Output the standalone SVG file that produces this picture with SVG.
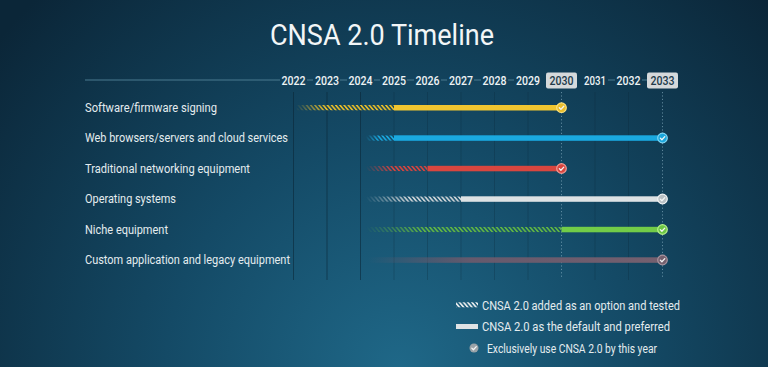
<svg xmlns="http://www.w3.org/2000/svg" width="768" height="367" viewBox="0 0 768 367">
<defs>
<radialGradient id="bg" cx="400" cy="370" r="520" gradientUnits="userSpaceOnUse">
<stop offset="0" stop-color="#1f6888"/>
<stop offset="0.45" stop-color="#144a66"/>
<stop offset="1" stop-color="#0b2638"/>
</radialGradient>
<pattern id="stripes" width="3.2" height="10" patternUnits="userSpaceOnUse" patternTransform="rotate(-40)">
<rect x="0" y="0" width="1.7" height="10" fill="#fff"/>
</pattern>
<mask id="hatch" maskUnits="userSpaceOnUse" x="0" y="0" width="768" height="367">
<rect x="0" y="0" width="768" height="367" fill="url(#stripes)"/>
</mask>
<linearGradient id="fadeG" x1="0" y1="0" x2="1" y2="0">
<stop offset="0" stop-color="#000"/>
<stop offset="0.45" stop-color="#fff"/>
<stop offset="1" stop-color="#fff"/>
</linearGradient>
<linearGradient id="fadeG2" x1="0" y1="0" x2="1" y2="0">
<stop offset="0" stop-color="#000"/>
<stop offset="0.3" stop-color="#fff"/>
<stop offset="1" stop-color="#fff"/>
</linearGradient>
<mask id="fade" maskContentUnits="objectBoundingBox">
<rect x="0" y="0" width="1" height="1" fill="url(#fadeG)"/>
</mask>
<mask id="fade2" maskContentUnits="objectBoundingBox">
<rect x="0" y="0" width="1" height="1" fill="url(#fadeG2)"/>
</mask>
<linearGradient id="mauveG" x1="368" y1="0" x2="662" y2="0" gradientUnits="userSpaceOnUse">
<stop offset="0" stop-color="#6e5a6c" stop-opacity="0"/>
<stop offset="0.35" stop-color="#6e5a6c" stop-opacity="0.9"/>
<stop offset="1" stop-color="#75606f"/>
</linearGradient>
<symbol id="check" viewBox="-6 -6 12 12" overflow="visible">
<path d="M-2.2 0.1 L-0.6 1.7 L2.3 -1.4" fill="none" stroke="#f4f6f6" stroke-width="1.3" stroke-linecap="round" stroke-linejoin="round"/>
</symbol>
</defs>
<style>
.title{font-family:Roboto,"Liberation Sans",sans-serif;font-size:30px;fill:#f2f6f7}
.yr{font-family:Roboto,"Liberation Sans",sans-serif;font-size:12px;font-weight:500;fill:#eef3f5;text-anchor:middle}
.yrb{fill:#203848}
.lbl{font-family:Roboto,"Liberation Sans",sans-serif;font-size:12px;fill:#e4ecef}
.leg{font-family:Roboto,"Liberation Sans",sans-serif;font-size:12px;fill:#e4ecef}
.grid{stroke:#0a2535;stroke-width:1;opacity:0.55}
.gridf{stroke:#0a2535;stroke-width:1;opacity:0.25}
.dot{stroke:#8fb6c8;stroke-width:1;stroke-dasharray:1.2 2.2;opacity:0.6}
.axis{stroke:#4a7a90;stroke-width:1}
.box{fill:#d5d9db}
.ring{stroke-width:1.2}
</style>
<rect x="0" y="0" width="768" height="367" fill="url(#bg)"/>

<text class="title" x="382" y="45" text-anchor="middle" textLength="224" lengthAdjust="spacingAndGlyphs">CNSA 2.0 Timeline</text>

<g id="axis">
<line class="axis" x1="85" y1="80" x2="280" y2="80"/>
<line class="axis" x1="307" y1="80" x2="313" y2="80"/>
<line class="axis" x1="340" y1="80" x2="347" y2="80"/>
<line class="axis" x1="374" y1="80" x2="380" y2="80"/>
<line class="axis" x1="407" y1="80" x2="414" y2="80"/>
<line class="axis" x1="441" y1="80" x2="447" y2="80"/>
<line class="axis" x1="474" y1="80" x2="481" y2="80"/>
<line class="axis" x1="508" y1="80" x2="514" y2="80"/>
<line class="axis" x1="608" y1="80" x2="615" y2="80"/>
<line class="axis" x1="642" y1="80" x2="647" y2="80"/>
<rect class="box" x="546" y="72.5" width="31" height="16" rx="2"/>
<rect class="box" x="647" y="72.5" width="31" height="16" rx="2"/>
<text class="yr" x="293.5" y="84.5" textLength="24" lengthAdjust="spacingAndGlyphs">2022</text>
<text class="yr" x="327" y="84.5" textLength="24" lengthAdjust="spacingAndGlyphs">2023</text>
<text class="yr" x="360.5" y="84.5" textLength="24" lengthAdjust="spacingAndGlyphs">2024</text>
<text class="yr" x="394" y="84.5" textLength="24" lengthAdjust="spacingAndGlyphs">2025</text>
<text class="yr" x="427.5" y="84.5" textLength="24" lengthAdjust="spacingAndGlyphs">2026</text>
<text class="yr" x="461" y="84.5" textLength="24" lengthAdjust="spacingAndGlyphs">2027</text>
<text class="yr" x="494.5" y="84.5" textLength="24" lengthAdjust="spacingAndGlyphs">2028</text>
<text class="yr" x="528" y="84.5" textLength="24" lengthAdjust="spacingAndGlyphs">2029</text>
<text class="yr yrb" x="561.5" y="84.5" textLength="24" lengthAdjust="spacingAndGlyphs">2030</text>
<text class="yr" x="595" y="84.5" textLength="22" lengthAdjust="spacingAndGlyphs">2031</text>
<text class="yr" x="628.5" y="84.5" textLength="24" lengthAdjust="spacingAndGlyphs">2032</text>
<text class="yr yrb" x="662.5" y="84.5" textLength="24" lengthAdjust="spacingAndGlyphs">2033</text>
</g>

<g id="gridlines">
<line class="grid" x1="293.5" y1="92" x2="293.5" y2="280"/>
<line class="grid" x1="327" y1="92" x2="327" y2="280"/>
<line class="grid" x1="360.5" y1="92" x2="360.5" y2="280"/>
<line class="gridf" x1="394" y1="92" x2="394" y2="280"/>
<line class="gridf" x1="427.5" y1="92" x2="427.5" y2="280"/>
<line class="gridf" x1="461" y1="92" x2="461" y2="280"/>
<line class="gridf" x1="494.5" y1="92" x2="494.5" y2="280"/>
<line class="gridf" x1="528" y1="92" x2="528" y2="280"/>
<line class="gridf" x1="595" y1="92" x2="595" y2="280"/>
<line class="gridf" x1="628.5" y1="92" x2="628.5" y2="280"/>
<line class="dot" x1="561.5" y1="92" x2="561.5" y2="278"/>
<line class="dot" x1="662.5" y1="92" x2="662.5" y2="278"/>
</g>

<g id="row-software">
<text class="lbl" x="85" y="111.5" textLength="132" lengthAdjust="spacingAndGlyphs">Software/firmware signing</text>
<g mask="url(#fade2)"><rect x="296" y="105" width="98" height="5.5" fill="#e2b92a" mask="url(#hatch)"/></g>
<rect x="394" y="105" width="168" height="5.5" fill="#f0c530"/>
<circle class="ring" cx="561.5" cy="107.7" r="4.8" fill="#e9bd2c" stroke="#ffe27a"/>
<use href="#check" x="555.5" y="101.7" width="12" height="12"/>
</g>

<g id="row-web">
<text class="lbl" x="85" y="142" textLength="203" lengthAdjust="spacingAndGlyphs">Web browsers/servers and cloud services</text>
<g mask="url(#fade)"><rect x="366" y="135.3" width="28" height="5.5" fill="#1aa6dc" mask="url(#hatch)"/></g>
<rect x="394" y="135.3" width="268" height="5.5" fill="#1aa9e0"/>
<circle class="ring" cx="662.5" cy="138" r="4.8" fill="#1aa6dc" stroke="#7fd6f5"/>
<use href="#check" x="656.5" y="132" width="12" height="12"/>
</g>

<g id="row-traditional">
<text class="lbl" x="85" y="172.5" textLength="165" lengthAdjust="spacingAndGlyphs">Traditional networking equipment</text>
<g mask="url(#fade)"><rect x="366" y="165.8" width="61.5" height="5.5" fill="#d2443f" mask="url(#hatch)"/></g>
<rect x="427.5" y="165.8" width="134" height="5.5" fill="#d9463f"/>
<circle class="ring" cx="561.5" cy="168.5" r="4.8" fill="#d9463f" stroke="#f29a94"/>
<use href="#check" x="555.5" y="162.5" width="12" height="12"/>
</g>

<g id="row-os">
<text class="lbl" x="85" y="203" textLength="91" lengthAdjust="spacingAndGlyphs">Operating systems</text>
<g mask="url(#fade)"><rect x="366" y="196.3" width="95" height="5.5" fill="#c9d0d4" mask="url(#hatch)"/></g>
<rect x="461" y="196.3" width="201" height="5.5" fill="#dde2e4"/>
<circle class="ring" cx="662.5" cy="199" r="4.8" fill="#b9c0c4" stroke="#f2f4f5"/>
<use href="#check" x="656.5" y="193" width="12" height="12"/>
</g>

<g id="row-niche">
<text class="lbl" x="85" y="233.5" textLength="83" lengthAdjust="spacingAndGlyphs">Niche equipment</text>
<g mask="url(#fade2)"><rect x="366" y="226.8" width="195.5" height="5.5" fill="#5fb444" mask="url(#hatch)"/></g>
<rect x="561.5" y="226.8" width="101" height="5.5" fill="#72cc48"/>
<circle class="ring" cx="662.5" cy="229.5" r="4.8" fill="#6cc644" stroke="#b6f08a"/>
<use href="#check" x="656.5" y="223.5" width="12" height="12"/>
</g>

<g id="row-custom">
<text class="lbl" x="85" y="264" textLength="205" lengthAdjust="spacingAndGlyphs">Custom application and legacy equipment</text>
<rect x="368" y="257.3" width="294" height="5.5" fill="url(#mauveG)"/>
<circle class="ring" cx="662.5" cy="260" r="4.8" fill="#74606e" stroke="#a8949f"/>
<use href="#check" x="656.5" y="254" width="12" height="12"/>
</g>

<g id="legend">
<rect x="456" y="302.3" width="22" height="5" fill="#e6eaec" mask="url(#hatch)"/>
<text class="leg" x="482" y="309.5" textLength="198" lengthAdjust="spacingAndGlyphs">CNSA 2.0 added as an option and tested</text>
<rect x="456" y="324" width="22" height="5" fill="#dfe3e5"/>
<text class="leg" x="482" y="331" textLength="188" lengthAdjust="spacingAndGlyphs">CNSA 2.0 as the default and preferred</text>
<circle cx="474" cy="348" r="4.5" fill="#9aa3a8"/>
<use href="#check" x="468" y="342" width="12" height="12"/>
<text class="leg" x="487" y="352.5" textLength="170" lengthAdjust="spacingAndGlyphs">Exclusively use CNSA 2.0 by this year</text>
</g>
</svg>
